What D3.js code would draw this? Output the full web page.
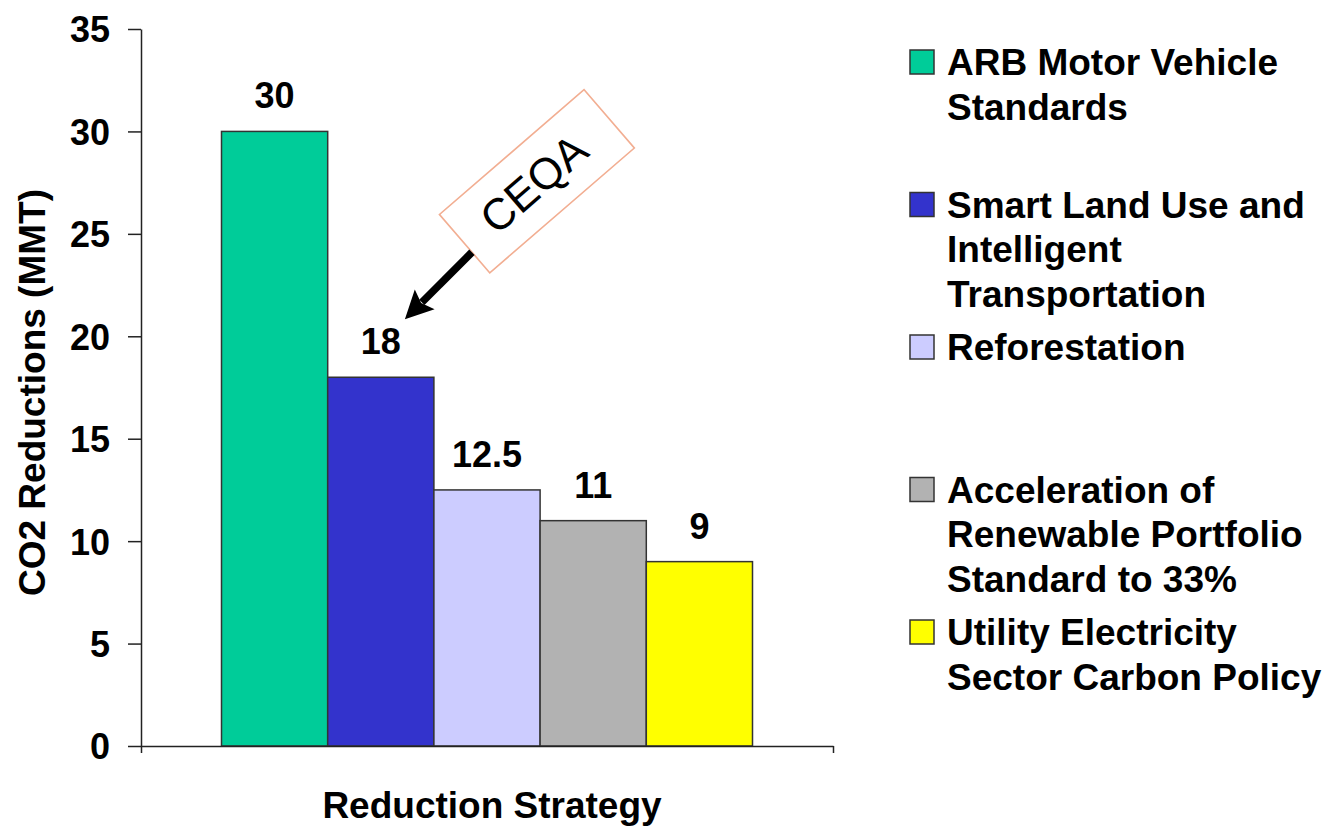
<!DOCTYPE html>
<html>
<head>
<meta charset="utf-8">
<script src="https://cdn.jsdelivr.net/npm/d3@7"></script>
<style>
  html, body { margin: 0; padding: 0; background: #fff; }
  svg { display: block; }
  text { font-family: "Liberation Sans", Arial, Helvetica, sans-serif; }
</style>
</head>
<body>
<svg id="chart" width="1327" height="831"></svg>
<script>
// ---- Data ----
const categories = [
  "ARB Motor Vehicle Standards",
  "Smart Land Use and Intelligent Transportation",
  "Reforestation",
  "Acceleration of Renewable Portfolio Standard to 33%",
  "Utility Electricity Sector Carbon Policy"
];
const values = [30, 18, 12.5, 11, 9];
const valueLabels = ["30", "18", "12.5", "11", "9"];
const colors = ["#00CC99", "#3333CC", "#CCCCFF", "#B2B2B2", "#FFFF00"];
const legendLines = [
  ["ARB Motor Vehicle", "Standards"],
  ["Smart Land Use and", "Intelligent", "Transportation"],
  ["Reforestation"],
  ["Acceleration of", "Renewable Portfolio", "Standard to 33%"],
  ["Utility Electricity", "Sector Carbon Policy"]
];
const yTicks = [0, 5, 10, 15, 20, 25, 30, 35];
const yTitle = "CO2 Reductions (MMT)";
const xTitle = "Reduction Strategy";
const annotationText = "CEQA";
const annotatedIndex = 1;

// ---- Layout ----
const plot = { left: 141, right: 833, top: 29, bottom: 746 };
const svg = d3.select("#chart");
const boldFont = 36;
const legendFont = 37;

const y = d3.scaleLinear().domain([0, 35]).range([plot.bottom, plot.top]);
const x = d3.scaleBand().domain(categories).range([plot.left, plot.right])
  .paddingInner(0).paddingOuter(0.758);
const color = d3.scaleOrdinal().domain(categories).range(colors);

// Bars
svg.append("g").selectAll("rect").data(categories).join("rect")
  .attr("x", d => x(d))
  .attr("y", (d, i) => y(values[i]))
  .attr("width", x.bandwidth())
  .attr("height", (d, i) => y(0) - y(values[i]))
  .attr("fill", d => color(d))
  .attr("stroke", "#333")
  .attr("stroke-width", 1.5);

// Value labels
svg.append("g").selectAll("text").data(categories).join("text")
  .attr("x", d => x(d) + x.bandwidth() / 2)
  .attr("y", (d, i) => y(values[i]) - 23)
  .attr("text-anchor", "middle")
  .attr("font-size", boldFont)
  .attr("font-weight", "bold")
  .text((d, i) => valueLabels[i]);

// Y axis
const yAxis = svg.append("g")
  .attr("transform", `translate(${plot.left},0)`)
  .call(d3.axisLeft(y).tickValues(yTicks).tickSize(13).tickSizeOuter(0).tickPadding(18));
yAxis.select(".domain").attr("stroke", "#222").attr("stroke-width", 1.5);
yAxis.selectAll(".tick line").attr("stroke", "#222").attr("stroke-width", 1.5);
yAxis.selectAll(".tick text")
  .attr("font-size", boldFont).attr("font-weight", "bold")
  .attr("font-family", "'Liberation Sans', Arial, sans-serif")
  .attr("fill", "#000").attr("dy", "0.36em");

// X axis (single category span with end ticks)
const xOuter = d3.scaleLinear().domain([0, 1]).range([plot.left, plot.right]);
const xAxis = svg.append("g")
  .attr("transform", `translate(0,${plot.bottom})`)
  .call(d3.axisBottom(xOuter).tickValues([0, 1]).tickSize(7).tickSizeOuter(0).tickFormat(""));
xAxis.select(".domain").attr("stroke", "#222").attr("stroke-width", 1.5);
xAxis.selectAll(".tick line").attr("stroke", "#222").attr("stroke-width", 1.5);

// Axis titles
svg.append("text")
  .attr("transform", `translate(45,${(plot.top + plot.bottom) / 2 + 5}) rotate(-90)`)
  .attr("text-anchor", "middle")
  .attr("font-size", boldFont + 1).attr("font-weight", "bold")
  .text(yTitle);
svg.append("text")
  .attr("x", 492).attr("y", 818)
  .attr("text-anchor", "middle")
  .attr("font-size", legendFont).attr("font-weight", "bold")
  .text(xTitle);

// Legend
const legend = svg.append("g").attr("transform", "translate(910,50)");
const slot = 142.5, lineH = 44.5, sq = 24;
const items = legend.selectAll("g").data(categories).join("g")
  .attr("transform", (d, i) => `translate(0,${i * slot})`);
items.append("rect")
  .attr("width", sq).attr("height", sq)
  .attr("fill", d => color(d))
  .attr("stroke", "#333").attr("stroke-width", 1.5);
items.each(function (d, i) {
  const t = d3.select(this).append("text")
    .attr("x", 37).attr("y", 25)
    .attr("font-size", legendFont).attr("font-weight", "bold");
  legendLines[i].forEach((line, j) => {
    t.append("tspan").attr("x", 37).attr("y", 25 + j * lineH).text(line);
  });
});

// CEQA annotation (anchored relative to the annotated bar)
const bx = x(categories[annotatedIndex]) + x.bandwidth();
const by = y(values[annotatedIndex]);
const boxCx = bx + 103, boxCy = by - 196, boxAngle = -40.8;
const ann = svg.append("g").attr("transform", `translate(${boxCx},${boxCy}) rotate(${boxAngle})`);
ann.append("rect")
  .attr("x", -95.5).attr("y", -38.5).attr("width", 191).attr("height", 77)
  .attr("fill", "#fff").attr("stroke", "#F2AE92").attr("stroke-width", 1.6);
ann.append("text")
  .attr("x", -4).attr("y", 15)
  .attr("text-anchor", "middle")
  .attr("font-size", 44)
  .text(annotationText);

// Arrow
const tail = [bx + 38, by - 125], tip = [bx - 29, by - 58];
const dx = tip[0] - tail[0], dy = tip[1] - tail[1];
const len = Math.hypot(dx, dy), ux = dx / len, uy = dy / len;
const px = -uy, py = ux;
const headL = 28, headW = 14;
const base = [tip[0] - ux * headL, tip[1] - uy * headL];
svg.append("line")
  .attr("x1", tail[0]).attr("y1", tail[1])
  .attr("x2", base[0] + ux * 4).attr("y2", base[1] + uy * 4)
  .attr("stroke", "#000").attr("stroke-width", 7.5);
svg.append("path")
  .attr("d", `M${tip[0]},${tip[1]}L${base[0] + px * headW},${base[1] + py * headW}L${base[0] + ux * 5},${base[1] + uy * 5}L${base[0] - px * headW},${base[1] - py * headW}Z`)
  .attr("fill", "#000");
</script>
</body>
</html>
